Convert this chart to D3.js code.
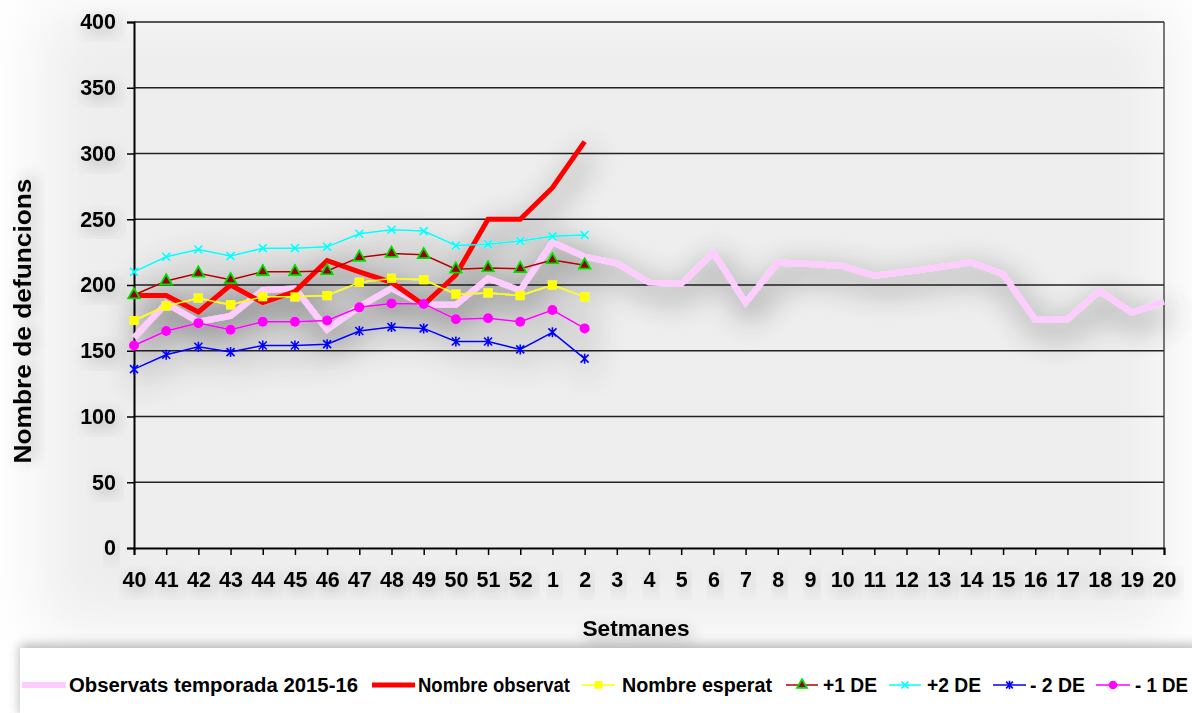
<!DOCTYPE html>
<html>
<head>
<meta charset="utf-8">
<script src="https://cdn.jsdelivr.net/npm/d3@7"></script>
<style>
body { margin: 0; background: #fff; }
svg { display: block; font-family: Arial, "Liberation Sans", sans-serif; font-weight: bold; }
</style>
</head>
<body>
<svg id="chart" width="1192" height="713"></svg>
<script>
// weeks 40..52 then 1..20
const weeks = ["40","41","42","43","44","45","46","47","48","49","50","51","52",
  "1","2","3","4","5","6","7","8","9","10","11","12","13","14","15","16","17","18","19","20"];
const yTicks = [0,50,100,150,200,250,300,350,400];

const obs2015 = [160,186,172,176.5,196,197.5,166,183.5,197.5,185,185,205,196,232.5,221.5,
  216.5,201.8,200.8,224.6,186.6,217,216,214.5,207,210,213.4,217.2,208.4,173.4,174,195.4,179,187.3];
const observed = [192,192,179.5,200,186.6,195,218.5,210,202,185,207.6,250,250,274,309];
const expected = [173,184,190,185,191,191,192,202,205,204,193,194,192,200,191];
const plus1 = [192.4,203,209,204,210,210,210.7,221,224,223,212,213,212.4,219,215];
const plus2 = [210,221.5,227,222,228,228,229,239,242,241,230,231,233.5,237,238];
const minus2 = [136,147,153,149,154,154,155,165,168,167,157,157,151,164,144];
const minus1 = [154,165,171,166,172,172,173,183,186,185.6,174,174.7,172,181,167];

const series = [
  {name: "Observats temporada 2015-16", vals: obs2015, color: "#ffccff", width: 6, marker: null},
  {name: "Nombre observat", vals: observed, color: "#ff0000", width: 5, marker: null},
  {name: "Nombre esperat", vals: expected, color: "#ffff00", width: 1.5, marker: "square"},
  {name: "+1 DE", vals: plus1, color: "#b00000", width: 1.5, marker: "triangle"},
  {name: "+2 DE", vals: plus2, color: "#00ffff", width: 1.5, marker: "x"},
  {name: "- 2 DE", vals: minus2, color: "#0000ff", width: 1.5, marker: "star"},
  {name: "- 1 DE", vals: minus1, color: "#ff00ff", width: 1.5, marker: "circle"}
];
// legend layout: line start, line end, text start, text width
const legendPos = [[22,66,69,289],[372,415,418,152],[582,615,622,150],[786,818,823,54],
  [889,921,927,54],[993,1026,1030,55],[1096,1130,1135,53]];

const svg = d3.select("#chart");
const pLeft = 134, pRight = 1164, pTop = 22, pBottom = 548;

const defs = svg.append("defs");
function shadow(id, sd, op, dx, dy) {
  const f = defs.append("filter").attr("id", id)
    .attr("x", "-30%").attr("y", "-30%").attr("width", "160%").attr("height", "160%");
  f.append("feGaussianBlur").attr("in", "SourceAlpha").attr("stdDeviation", sd).attr("result", "b");
  f.append("feOffset").attr("in", "b").attr("dx", dx).attr("dy", dy).attr("result", "o");
  f.append("feComponentTransfer").attr("in", "o").attr("result", "s")
    .append("feFuncA").attr("type", "linear").attr("slope", op);
  const m = f.append("feMerge");
  m.append("feMergeNode").attr("in", "s");
  m.append("feMergeNode").attr("in", "SourceGraphic");
}
shadow("lineShadow", 16, 0.8, 5, 10);
shadow("textShadow", 8, 0.3, 3, 5);
shadow("boxShadow", 6, 0.3, 0, -3);
const bg = defs.append("filter").attr("id", "bgBlur")
  .attr("x", "-20%").attr("y", "-20%").attr("width", "140%").attr("height", "140%");
bg.append("feGaussianBlur").attr("stdDeviation", 30);

// soft grey backdrop
svg.append("rect").attr("x", 40).attr("y", 10).attr("width", 1130).attr("height", 620)
  .attr("fill", "#eeeeee").attr("filter", "url(#bgBlur)");

const x = d3.scalePoint().domain(weeks).range([pLeft, pRight]);
const y = d3.scaleLinear().domain([0, 400]).range([pBottom, pTop]);

// gridlines
svg.append("g").selectAll("line").data(yTicks.filter(d => d > 0)).join("line")
  .attr("x1", pLeft).attr("x2", pRight)
  .attr("y1", d => y(d)).attr("y2", d => y(d))
  .attr("stroke", "#222").attr("stroke-width", 1.3);
svg.append("line").attr("x1", pRight).attr("x2", pRight).attr("y1", pTop).attr("y2", pBottom)
  .attr("stroke", "#333").attr("stroke-width", 1.3);

// axes
const yAxis = svg.append("g").attr("transform", `translate(${pLeft},0)`)
  .call(d3.axisLeft(y).tickValues(yTicks).tickSize(7).tickPadding(11));
const xAxis = svg.append("g").attr("transform", `translate(0,${pBottom})`)
  .call(d3.axisBottom(x).tickSize(7).tickPadding(17));
[yAxis, xAxis].forEach(g => {
  g.select(".domain").attr("stroke", "#000").attr("stroke-width", 2);
  g.selectAll(".tick line").attr("stroke", "#000").attr("stroke-width", 1.5);
  g.selectAll(".tick text").attr("font-size", 21.5).attr("font-weight", "bold")
    .attr("font-family", "Arial, 'Liberation Sans', sans-serif").attr("fill", "#000")
    .attr("filter", "url(#textShadow)");
});

// axis titles
svg.append("text").attr("x", 636).attr("y", 636).attr("text-anchor", "middle")
  .attr("font-size", 22).attr("textLength", 107).attr("lengthAdjust", "spacingAndGlyphs")
  .attr("filter", "url(#textShadow)").text("Setmanes");
svg.append("text").attr("transform", "translate(31,321) rotate(-90)").attr("text-anchor", "middle")
  .attr("font-size", 24).attr("textLength", 285).attr("lengthAdjust", "spacingAndGlyphs")
  .attr("filter", "url(#textShadow)").text("Nombre de defuncions");

// markers
function drawMarker(g, type, color, size) {
  const s = size || 1;
  if (type === "square") {
    g.append("rect").attr("x", -4.5 * s).attr("y", -4.5 * s).attr("width", 9 * s).attr("height", 9 * s).attr("fill", color);
  } else if (type === "triangle") {
    g.append("path").attr("d", d3.symbol(d3.symbolTriangle, 60 * s * s)())
      .attr("fill", "#990000").attr("stroke", "#00dd00").attr("stroke-width", 1.8);
  } else if (type === "x") {
    g.append("path").attr("d", `M${-4*s},${-4*s}L${4*s},${4*s}M${-4*s},${4*s}L${4*s},${-4*s}`)
      .attr("stroke", color).attr("stroke-width", 1.6);
  } else if (type === "star") {
    g.append("path").attr("d", `M${-4*s},${-4*s}L${4*s},${4*s}M${-4*s},${4*s}L${4*s},${-4*s}M0,${-5*s}L0,${5*s}`)
      .attr("stroke", color).attr("stroke-width", 1.6);
  } else if (type === "circle") {
    g.append("circle").attr("r", 5 * s).attr("fill", color);
  }
}

const plot = svg.append("g").attr("filter", "url(#lineShadow)");
const line = d3.line().x((d, i) => x(weeks[i])).y(d => y(d));
series.forEach(s => {
  const g = plot.append("g");
  g.append("path").datum(s.vals).attr("d", line)
    .attr("fill", "none").attr("stroke", s.color).attr("stroke-width", s.width)
    .attr("stroke-linejoin", "miter");
  if (s.marker) {
    g.selectAll("g.m").data(s.vals).join("g").attr("class", "m")
      .attr("transform", (d, i) => `translate(${x(weeks[i])},${y(d)})`)
      .each(function() { drawMarker(d3.select(this), s.marker, s.color, 1); });
  }
});

// legend
svg.append("rect").attr("x", 20).attr("y", 648).attr("width", 1180).attr("height", 70)
  .attr("fill", "#fff").attr("filter", "url(#boxShadow)");
const leg = svg.append("g");
const ly = 685;
series.forEach((s, i) => {
  const [x1, x2, tx, tw] = legendPos[i];
  const g = leg.append("g");
  g.append("line").attr("x1", x1).attr("x2", x2).attr("y1", ly).attr("y2", ly)
    .attr("stroke", s.color).attr("stroke-width", s.width);
  if (s.marker) {
    const m = g.append("g").attr("transform", `translate(${(x1 + x2) / 2},${ly})`);
    drawMarker(m, s.marker, s.color, 0.85);
  }
  g.append("text").attr("x", tx).attr("y", ly + 7)
    .attr("font-size", 20).attr("textLength", tw).attr("lengthAdjust", "spacingAndGlyphs")
    .attr("fill", "#000").text(s.name);
});
</script>
</body>
</html>
